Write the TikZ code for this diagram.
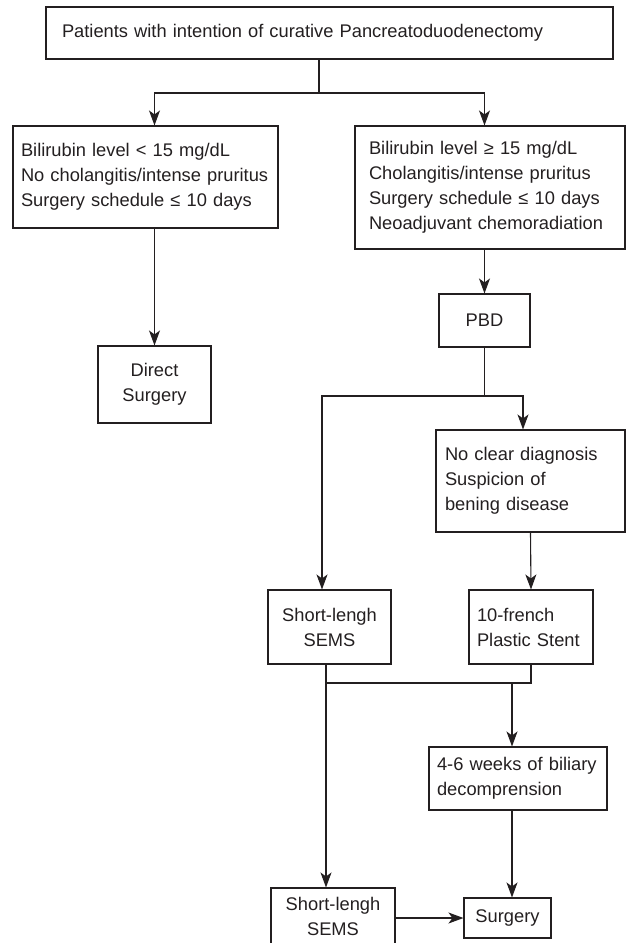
\documentclass[tikz,border=0pt]{standalone}
\usepackage{fontspec}
\setmainfont{Liberation Sans}
\usetikzlibrary{arrows.meta,calc}
\definecolor{ink}{RGB}{35,31,32}

\begin{document}
\begin{tikzpicture}[x=1pt, y=-1pt, ink, line width=1.1pt,
    box/.style={draw=ink, rectangle, inner ysep=0pt, font=\fontsize{18.3}{25}\selectfont},
    lbox/.style={box, align=left},
    cbox/.style={box, align=center, inner xsep=4pt},
    arr/.style={-{Stealth[length=15pt, width=11pt, inset=4pt]}}]
  \useasboundingbox (0,0) rectangle (626,943);

  % boxes (centres in pixels of the chart, y going down)
  \node[lbox, text width=535pt, inner xsep=16pt, minimum height=52pt] (start) at (329.5,33) {Patients with intention of curative Pancreatoduodenectomy};
  \node[lbox, text width=249pt, inner xsep=8pt, minimum height=102pt] (low) at (145.5,177) {Bilirubin level < 15 mg/dL\\No cholangitis/intense pruritus\\Surgery schedule ≤ 10 days};
  \node[lbox, text width=242pt, inner xsep=14pt, minimum height=123pt] (high) at (490,187.5) {Bilirubin level ≥ 15 mg/dL\\Cholangitis/intense pruritus\\Surgery schedule ≤ 10 days\\Neoadjuvant chemoradiation};
  \node[cbox, text width=105pt, minimum height=77pt] (direct) at (154.5,384.5) {Direct\\Surgery};
  \node[cbox, text width=83pt, minimum height=53pt] (pbd) at (484.5,320.5) {PBD};
  \node[lbox, text width=171pt, inner xsep=9pt, minimum height=102pt] (benign) at (530.5,481) {No clear diagnosis\\Suspicion of\\bening disease};
  \node[cbox, text width=115pt, minimum height=74pt] (semsA) at (329.5,627) {Short-lengh\\SEMS};
  \node[lbox, text width=108pt, inner xsep=8pt, minimum height=74pt] (plastic) at (531,627) {10-french\\Plastic Stent};
  \node[lbox, text width=162pt, inner xsep=8pt, minimum height=63pt] (weeks) at (518,778.5) {4-6 weeks of biliary\\decomprension};
  \node[cbox, text width=116pt, minimum height=56pt] (semsB) at (333,916) {Short-lengh\\SEMS};
  \node[cbox, text width=79pt, minimum height=40pt] (surgery) at (507.5,918) {Surgery};

  % junctions
  \coordinate (s1) at (319,93);
  \coordinate (s2) at (pbd.south |- 0,396);
  \coordinate (s3) at (326,683);
  \coordinate (s4) at (512,683);
  \coordinate (colA) at (322,0);
  \coordinate (colB) at (523,0);

  % connectors
  \draw (start.south -| s1) -- (s1);
  \draw[arr] (s1) -| (low.north -| direct.north);
  \draw[arr] (s1) -| (high.north -| pbd.north);
  \draw[arr] (low.south -| direct.north) -- (direct.north);
  \draw[arr] (high.south -| pbd.north) -- (pbd.north);
  \draw (pbd.south) -- (s2);
  \draw[arr] (s2) -| (semsA.north -| colA);
  \draw[arr] (s2) -| (benign.north -| colB);
  \draw[arr] (benign.south) -- (plastic.north);
  \draw (semsA.south -| s3) -- (s3) -| (plastic.south);
  \draw[arr] (s3) -- (semsB.north -| s3);
  \draw[arr] (s4) -- (weeks.north -| s4);
  \draw[arr] (weeks.south -| s4) -- (surgery.north -| s4);
  \draw[arr] (semsB.east |- surgery.west) -- (surgery.west);
\end{tikzpicture}
\end{document}
